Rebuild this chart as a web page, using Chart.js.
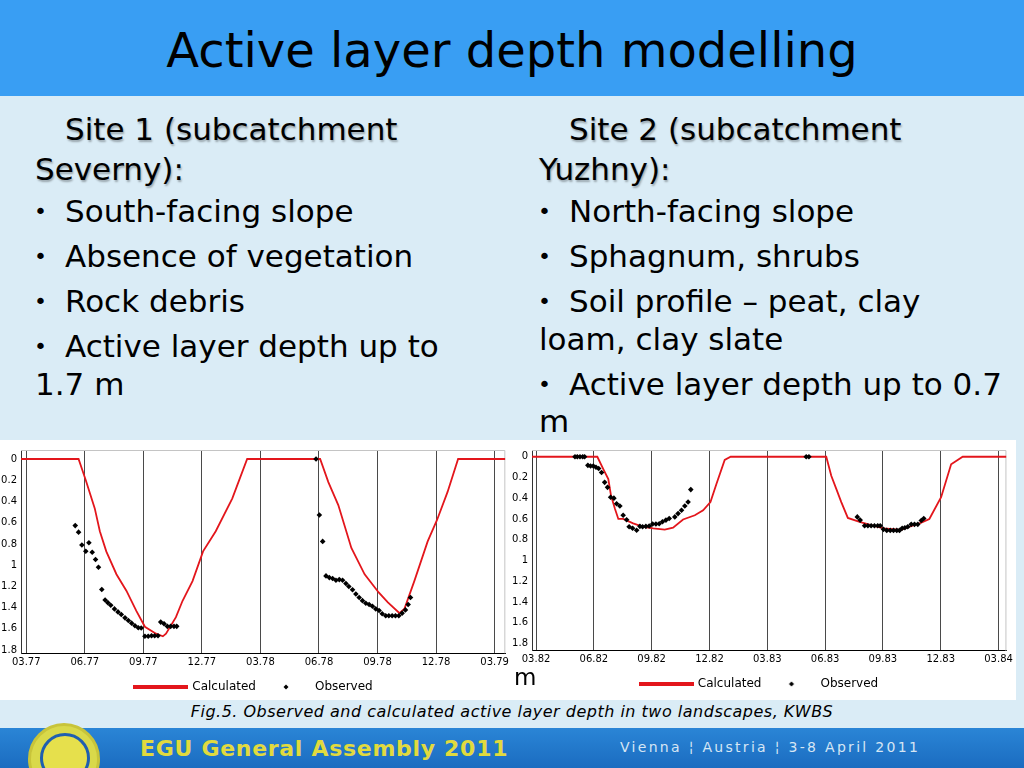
<!DOCTYPE html>
<html><head><meta charset="utf-8">
<script src="https://cdn.jsdelivr.net/npm/chart.js@4.4.1/dist/chart.umd.min.js"></script>
<style>
html,body{margin:0;padding:0;}
body{width:1024px;height:768px;position:relative;overflow:hidden;background:#daecf6;font-family:'DejaVu Sans',Verdana,sans-serif;color:#000;}
#hdr{position:absolute;left:0;top:0;width:1024px;height:96px;background:#399ef3;}
#title{position:absolute;left:0;top:26px;width:1024px;text-align:center;font-size:48px;line-height:48px;white-space:nowrap;}
.t{position:absolute;font-size:31px;line-height:31px;height:31px;white-space:nowrap;}
.b{position:absolute;font-size:22px;line-height:22px;white-space:nowrap;}
.h{text-shadow:1px 2px 2px rgba(0,0,0,0.3);}
.box{position:absolute;background:#fff;}
#c1w{left:0;top:440px;width:512px;height:260px;}
#c2w{left:512px;top:440px;width:504px;height:260px;}
#cap{position:absolute;left:0;top:702px;width:1024px;text-align:center;font-size:16px;letter-spacing:0.5px;font-style:italic;white-space:nowrap;}
#ftr{position:absolute;left:0;top:728px;width:1024px;height:40px;background:linear-gradient(to bottom,#2a85d6,#1b6cc0);}
#logo{position:absolute;left:28px;top:723px;width:66px;height:66px;border-radius:50%;background:#d9d94a;border:3px solid #c8c43a;}
#logo2{position:absolute;left:40px;top:733px;width:44px;height:44px;border-radius:50%;background:#e6e04c;border:3px solid #1f5fb0;}
#egu{position:absolute;left:140px;top:736px;font-size:22px;font-weight:bold;color:#e1da3e;letter-spacing:0.7px;white-space:nowrap;}
#vie{position:absolute;left:620px;top:739px;font-size:14px;color:#d6e6f4;letter-spacing:2.3px;white-space:pre;}
#mm{position:absolute;left:514px;top:664px;font-size:23px;white-space:nowrap;}
</style></head>
<body>
<div id="hdr"></div>
<div id="title">Active layer depth modelling</div>

<div class="t h" style="left:65px;top:114px">Site 1 (subcatchment</div>
<div class="t h" style="left:35px;top:154px">Severny):</div>
<div class="b" style="left:34px;top:201px">•</div><div class="t" style="left:65px;top:196px">South-facing slope</div>
<div class="b" style="left:34px;top:246px">•</div><div class="t" style="left:65px;top:241px">Absence of vegetation</div>
<div class="b" style="left:34px;top:291px">•</div><div class="t" style="left:65px;top:286px">Rock debris</div>
<div class="b" style="left:34px;top:336px">•</div><div class="t" style="left:65px;top:331px">Active layer depth up to</div>
<div class="t" style="left:35px;top:369px">1.7 m</div>

<div class="t h" style="left:569px;top:114px">Site 2 (subcatchment</div>
<div class="t h" style="left:539px;top:154px">Yuzhny):</div>
<div class="b" style="left:538px;top:201px">•</div><div class="t" style="left:569px;top:196px">North-facing slope</div>
<div class="b" style="left:538px;top:246px">•</div><div class="t" style="left:569px;top:241px">Sphagnum, shrubs</div>
<div class="b" style="left:538px;top:291px">•</div><div class="t" style="left:569px;top:286px">Soil profile – peat, clay</div>
<div class="t" style="left:539px;top:324px">loam, clay slate</div>
<div class="b" style="left:538px;top:374px">•</div><div class="t" style="left:569px;top:369px">Active layer depth up to 0.7</div>
<div class="t" style="left:539px;top:406px">m</div>

<div class="box" id="c1w"><canvas id="c1"></canvas></div>
<div class="box" id="c2w"><canvas id="c2"></canvas></div>
<div id="mm">m</div>

<div id="cap">Fig.5. Observed and calculated active layer depth in two landscapes, KWBS</div>
<div id="ftr"></div>
<div id="logo"></div><div id="logo2"></div>
<div id="egu">EGU General Assembly 2011</div>
<div id="vie">Vienna ¦ Austria ¦ 3-8 April 2011</div>

<script>
// ---- axis tick labels ----
const tickMonths = [0, 3, 6, 9, 12, 15, 18, 21, 24];
const tickLabels1 = ['03.77','06.77','09.77','12.77','03.78','06.78','09.78','12.78','03.79'];
const tickLabels2 = ['03.82','06.82','09.82','12.82','03.83','06.83','09.83','12.83','03.84'];
const depthTicks = [0, 0.2, 0.4, 0.6, 0.8, 1, 1.2, 1.4, 1.6, 1.8];
const seriesNames = ['Calculated', 'Observed'];

// ---- Site 1 (months since 03.77, depth m) ----
const calc1Month = [-0.27,2.68,3.05,3.51,3.77,4.1,4.62,5.13,5.64,6.08,6.65,7.0,7.16,7.67,8.01,8.52,9.06,9.71,10.56,11.32,15.06,15.48,15.99,16.66,17.34,18.06,18.53,19.13,19.38,19.89,20.57,21.05,21.59,22.13,24.55];
const calc1Depth = [0,0,0.2,0.465,0.68,0.87,1.085,1.24,1.43,1.58,1.645,1.67,1.645,1.49,1.335,1.15,0.87,0.68,0.37,0,0,0.217,0.434,0.838,1.086,1.257,1.35,1.452,1.41,1.148,0.776,0.574,0.31,0,0];
const obs1Month = [2.51,2.68,2.85,3.05,3.21,3.38,3.55,3.70,3.87,4.04,4.18,4.33,4.52,4.70,4.87,5.06,5.23,5.40,5.57,5.74,5.89,6.08,6.25,6.42,6.58,6.75,6.89,7.06,7.23,7.40,7.57,7.71,14.85,15.02,15.19,15.36,15.53,15.70,15.87,16.04,16.21,16.38,16.53,16.72,16.89,17.06,17.23,17.40,17.57,17.74,17.91,18.08,18.24,18.42,18.58,18.75,18.92,19.09,19.26,19.43,19.57,19.69];
const obs1Depth = [0.627,0.689,0.81,0.869,0.788,0.878,0.946,1.02,1.229,1.328,1.353,1.378,1.412,1.44,1.465,1.496,1.521,1.546,1.57,1.589,1.592,1.67,1.67,1.665,1.665,1.665,1.536,1.552,1.576,1.576,1.576,1.576,0,0.527,0.776,1.101,1.117,1.126,1.142,1.136,1.142,1.173,1.201,1.232,1.272,1.304,1.334,1.359,1.371,1.387,1.412,1.427,1.458,1.477,1.477,1.477,1.477,1.477,1.452,1.421,1.371,1.304];

// ---- Site 2 (months since 03.82, depth m) ----
const calc2Month = [-0.21,3.18,3.49,3.75,3.89,4.09,4.27,4.52,5.04,5.56,6.08,6.68,7.11,7.63,8.24,8.67,9.05,9.36,9.79,10.1,15.06,15.32,15.58,15.84,16.18,16.79,17.48,18.05,18.95,19.38,19.9,20.41,21.02,21.54,22.14,24.41];
const calc2Depth = [0,0,0.12,0.216,0.374,0.5,0.6,0.6,0.643,0.675,0.69,0.703,0.684,0.605,0.564,0.516,0.437,0.263,0.03,0,0,0.184,0.31,0.437,0.59,0.627,0.665,0.69,0.705,0.675,0.643,0.6,0.39,0.073,0,0];
const obs2Month = [2.02,2.14,2.28,2.42,2.52,2.69,2.83,2.97,3.11,3.25,3.40,3.56,3.71,3.87,4.04,4.18,4.35,4.52,4.70,4.83,5.01,5.22,5.39,5.53,5.70,5.87,6.05,6.22,6.39,6.56,6.74,6.91,7.20,7.37,7.55,7.72,7.89,8.03,14.02,14.16,16.67,16.82,17.05,17.22,17.39,17.56,17.73,17.86,18.03,18.20,18.38,18.55,18.72,18.86,19.00,19.14,19.29,19.47,19.64,19.81,19.99,20.12];
const obs2Depth = [0,0,0,0,0,0.083,0.089,0.089,0.102,0.114,0.152,0.247,0.295,0.39,0.399,0.453,0.475,0.564,0.608,0.675,0.69,0.709,0.671,0.675,0.671,0.668,0.649,0.649,0.646,0.627,0.611,0.596,0.58,0.548,0.516,0.475,0.437,0.317,0,0,0.58,0.611,0.665,0.665,0.665,0.665,0.665,0.665,0.7,0.71,0.71,0.71,0.71,0.71,0.69,0.684,0.675,0.652,0.652,0.652,0.614,0.596];

Chart.defaults.font.family = "'DejaVu Sans', Verdana, sans-serif";
Chart.defaults.color = '#000';

const RED = '#e3161c';
const pts = (xs, ys) => xs.map((x, i) => ({x: x, y: ys[i]}));

// legend icons (red bar, small diamond)
function lineIcon() {
  const c = document.createElement('canvas'); c.width = 55; c.height = 4;
  const g = c.getContext('2d'); g.fillStyle = RED; g.fillRect(0, 0, 55, 4); return c;
}
function diamondIcon() {
  const c = document.createElement('canvas'); c.width = 55; c.height = 6;
  const g = c.getContext('2d'); g.fillStyle = '#000';
  g.beginPath(); g.moveTo(30, 0.5); g.lineTo(32.5, 3); g.lineTo(30, 5.5); g.lineTo(27.5, 3); g.closePath(); g.fill();
  return c;
}
const ICON_LINE = lineIcon();
const ICON_DIAMOND = diamondIcon();

const frame = {
  id: 'frame',
  beforeDatasetsDraw(chart) {
    const {ctx, chartArea: a} = chart;
    ctx.save();
    ctx.strokeStyle = '#c4c4c4';
    ctx.lineWidth = 1;
    ctx.beginPath();
    ctx.moveTo(a.left, a.top + 0.5);
    ctx.lineTo(a.right - 0.5, a.top + 0.5);
    ctx.lineTo(a.right - 0.5, a.bottom);
    ctx.stroke();
    ctx.restore();
  }
};

function makeChart(id, calcX, calcY, obsX, obsY, labels, xMin, xMax, yMin, yMax, lay) {
  return new Chart(document.getElementById(id), {
    type: 'scatter',
    data: {
      datasets: [
        {label: seriesNames[0], data: pts(calcX, calcY), showLine: true, borderColor: RED, backgroundColor: RED,
         borderWidth: 1.8, pointRadius: 0, tension: 0, order: 1},
        {label: seriesNames[1], data: pts(obsX, obsY), pointStyle: 'rectRot', pointRadius: 2.8,
         backgroundColor: '#000', borderWidth: 0, order: 0}
      ]
    },
    options: {
      responsive: true, maintainAspectRatio: false, animation: false,
      layout: {padding: {top: lay.top, right: lay.right, left: 0, bottom: lay.bottom}},
      plugins: {
        tooltip: {enabled: false},
        legend: {
          position: 'bottom',
          labels: {
            usePointStyle: true, pointStyleWidth: 51, boxHeight: 4, padding: 2,
            font: {size: 12}, color: '#000',
            generateLabels: (chart) => [
              {text: chart.data.datasets[0].label, fillStyle: RED, strokeStyle: RED, lineWidth: 0, pointStyle: ICON_LINE, datasetIndex: 0, hidden: false},
              {text: chart.data.datasets[1].label, fillStyle: '#000', strokeStyle: '#000', lineWidth: 0, pointStyle: ICON_DIAMOND, datasetIndex: 1, hidden: false}
            ]
          }
        }
      },
      scales: {
        x: {
          type: 'linear', min: xMin, max: xMax,
          afterBuildTicks: (s) => { s.ticks = tickMonths.map(v => ({value: v})); },
          afterFit: (s) => { s.height = lay.xh; },
          ticks: {callback: (v, i) => labels[i], font: {size: 10}, color: '#000', padding: 3, maxRotation: 0, autoSkip: false},
          grid: {color: '#4a4a4a', lineWidth: 1, drawTicks: false},
          border: {color: '#000', width: 1}
        },
        y: {
          type: 'linear', reverse: true, min: yMin, max: yMax,
          afterBuildTicks: (s) => { s.ticks = depthTicks.map(v => ({value: v})); },
          afterFit: (s) => { s.width = lay.yw; },
          ticks: {callback: (v) => String(v), font: {size: 10}, color: '#000', padding: 4, autoSkip: false},
          grid: {display: false, drawTicks: false},
          border: {color: '#333', width: 1}
        }
      }
    },
    plugins: [frame]
  });
}

makeChart('c1', calc1Month, calc1Depth, obs1Month, obs1Depth, tickLabels1, -0.27, 24.55, -0.085, 1.83,
          {top: 7, right: 4, bottom: -3, xh: 25.7, yw: 21});
makeChart('c2', calc2Month, calc2Depth, obs2Month, obs2Depth, tickLabels2, -0.21, 24.41, -0.065, 1.87,
          {top: 7, right: 9, bottom: 0, xh: 25.3, yw: 20});
</script>
</body></html>
